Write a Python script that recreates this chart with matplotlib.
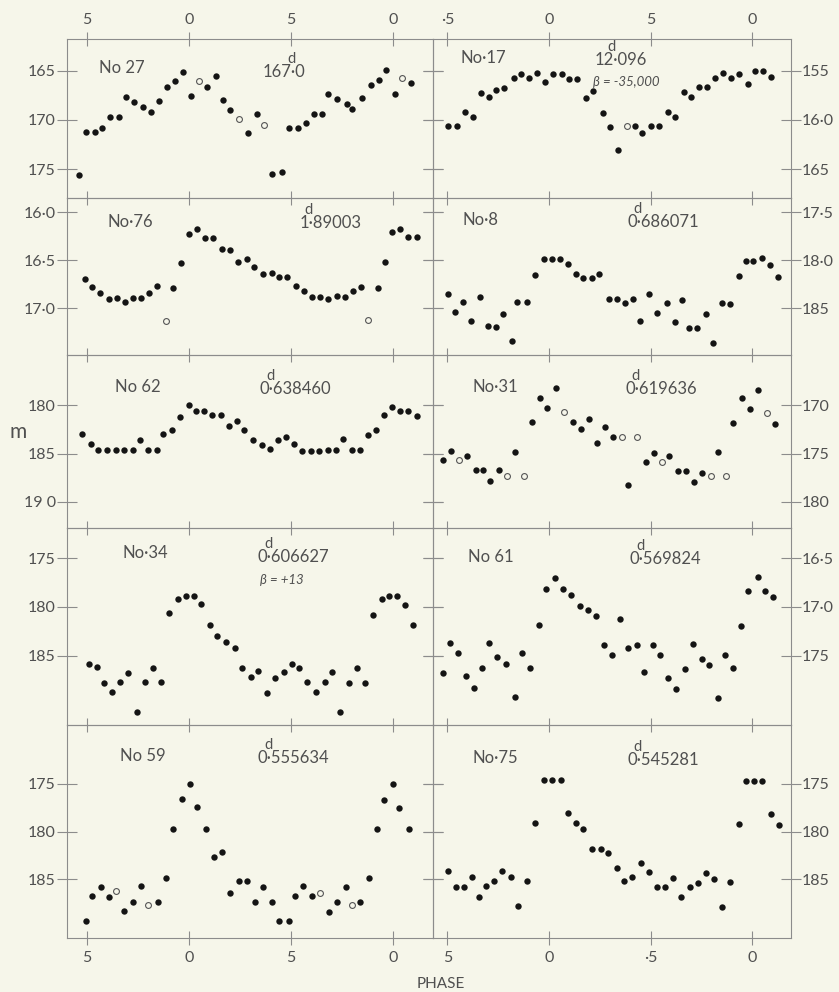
import matplotlib.pyplot as plt
from matplotlib.text import Annotation

plt.rcParams['font.family'] = ['Lato', 'DejaVu Sans']

# ---- data: phase, magnitude (filled and open circles) ----
no27_phase = [-0.54, -0.505, -0.462, -0.425, -0.386, -0.343, -0.307, -0.27, -0.227, -0.186,
              -0.147, -0.109, -0.07, -0.029, 0.008, 0.09, 0.131, 0.168, 0.201, 0.291,
              0.333, 0.407, 0.454, 0.492, 0.533, 0.574, 0.611, 0.652, 0.683, 0.724,
              0.773, 0.797, 0.846, 0.89, 0.93, 0.966, 1.008, 1.087]
no27_mag = [17.56, 17.12, 17.12, 17.08, 16.97, 16.97, 16.77, 16.82, 16.87, 16.92,
            16.81, 16.67, 16.61, 16.51, 16.76, 16.67, 16.55, 16.80, 16.90, 17.13,
            16.94, 17.55, 17.53, 17.08, 17.08, 17.03, 16.94, 16.94, 16.74, 16.79,
            16.84, 16.89, 16.78, 16.65, 16.60, 16.49, 16.74, 16.63]
no27_open_phase = [0.047, 0.245, 0.368, 1.046]
no27_open_mag = [16.61, 16.99, 17.05, 16.57]

no17_phase = [-0.495, -0.454, -0.415, -0.375, -0.336, -0.297, -0.261, -0.221, -0.175, -0.136,
              -0.098, -0.057, -0.018, 0.018, 0.062, 0.1, 0.139, 0.182, 0.218, 0.264,
              0.3, 0.341, 0.423, 0.459, 0.5, 0.541, 0.587, 0.621, 0.666, 0.698,
              0.736, 0.777, 0.815, 0.854, 0.895, 0.936, 0.979, 1.013, 1.054, 1.092]
no17_mag = [16.06, 16.06, 15.92, 15.97, 15.73, 15.77, 15.70, 15.68, 15.57, 15.53,
            15.57, 15.52, 15.62, 15.53, 15.53, 15.58, 15.58, 15.78, 15.71, 15.93,
            16.07, 16.30, 16.06, 16.13, 16.06, 16.06, 15.92, 15.97, 15.72, 15.77,
            15.67, 15.67, 15.57, 15.52, 15.57, 15.53, 15.64, 15.50, 15.50, 15.56]
no17_open_phase = [0.382]
no17_open_mag = [16.06]

no76_phase = [-0.511, -0.474, -0.435, -0.394, -0.351, -0.314, -0.273, -0.234, -0.196, -0.158,
              -0.077, -0.039, 0.002, 0.038, 0.077, 0.119, 0.16, 0.201, 0.239, 0.283,
              0.32, 0.364, 0.405, 0.443, 0.482, 0.523, 0.564, 0.601, 0.642, 0.683,
              0.724, 0.765, 0.806, 0.843, 0.925, 0.961, 0.997, 1.034, 1.075, 1.116]
no76_mag = [16.70, 16.78, 16.84, 16.90, 16.89, 16.94, 16.89, 16.89, 16.84, 16.77,
            16.79, 16.53, 16.23, 16.17, 16.27, 16.27, 16.38, 16.39, 16.52, 16.49,
            16.57, 16.64, 16.63, 16.68, 16.68, 16.77, 16.82, 16.88, 16.88, 16.91,
            16.87, 16.88, 16.82, 16.78, 16.79, 16.52, 16.21, 16.17, 16.26, 16.26]
no76_open_phase = [-0.113, 0.879]
no76_open_mag = [17.13, 17.12]

no8_phase = [-0.498, -0.464, -0.425, -0.385, -0.339, -0.302, -0.262, -0.225, -0.182, -0.156,
             -0.108, -0.067, -0.023, 0.016, 0.054, 0.095, 0.131, 0.169, 0.21, 0.248,
             0.295, 0.336, 0.374, 0.411, 0.448, 0.492, 0.533, 0.579, 0.62, 0.652,
             0.689, 0.726, 0.772, 0.808, 0.849, 0.89, 0.936, 0.967, 1.005, 1.046,
             1.087, 1.128]
no8_mag = [18.35, 18.54, 18.44, 18.64, 18.38, 18.69, 18.70, 18.56, 18.84, 18.44,
           18.44, 18.15, 17.99, 17.99, 17.99, 18.04, 18.14, 18.19, 18.19, 18.14,
           18.40, 18.40, 18.45, 18.41, 18.64, 18.35, 18.55, 18.45, 18.65, 18.42,
           18.71, 18.71, 18.56, 18.86, 18.45, 18.46, 18.16, 18.01, 18.01, 17.98,
           18.05, 18.17]
no8_open_phase = []
no8_open_mag = []

no62_phase = [-0.526, -0.482, -0.444, -0.404, -0.359, -0.317, -0.276, -0.24, -0.199, -0.158,
              -0.126, -0.083, -0.042, 0.0, 0.033, 0.074, 0.114, 0.157, 0.196, 0.234,
              0.271, 0.315, 0.358, 0.397, 0.436, 0.477, 0.515, 0.556, 0.597, 0.639,
              0.68, 0.721, 0.757, 0.799, 0.838, 0.876, 0.917, 0.956, 0.997, 1.034,
              1.075, 1.116]
no62_mag = [18.30, 18.40, 18.46, 18.46, 18.46, 18.46, 18.46, 18.36, 18.46, 18.46,
            18.30, 18.26, 18.12, 18.00, 18.06, 18.06, 18.10, 18.10, 18.21, 18.16,
            18.26, 18.36, 18.41, 18.45, 18.36, 18.33, 18.40, 18.47, 18.47, 18.47,
            18.46, 18.46, 18.35, 18.46, 18.46, 18.31, 18.26, 18.10, 18.02, 18.06,
            18.06, 18.11]
no62_open_phase = []
no62_open_mag = []

no31_phase = [-0.523, -0.482, -0.402, -0.361, -0.323, -0.29, -0.246, -0.169, -0.082, -0.044,
              -0.008, 0.034, 0.12, 0.157, 0.197, 0.234, 0.275, 0.313, 0.39, 0.477,
              0.518, 0.592, 0.633, 0.672, 0.715, 0.754, 0.83, 0.907, 0.948, 0.989,
              1.03, 1.111]
no31_mag = [17.57, 17.47, 17.53, 17.67, 17.67, 17.78, 17.67, 17.48, 17.17, 16.93,
            17.03, 16.82, 17.17, 17.25, 17.14, 17.39, 17.22, 17.33, 17.83, 17.59,
            17.49, 17.53, 17.68, 17.68, 17.79, 17.70, 17.48, 17.18, 16.93, 17.04,
            16.84, 17.19]
no31_open_phase = [-0.443, -0.208, -0.121, 0.075, 0.357, 0.434, 0.557, 0.795, 0.87, 1.074]
no31_open_mag = [17.57, 17.73, 17.73, 17.07, 17.33, 17.33, 17.59, 17.73, 17.73, 17.08]

no34_phase = [-0.49, -0.453, -0.415, -0.376, -0.338, -0.299, -0.253, -0.216, -0.176, -0.136,
              -0.096, -0.056, -0.016, 0.025, 0.06, 0.101, 0.139, 0.181, 0.225, 0.261,
              0.302, 0.34, 0.381, 0.42, 0.464, 0.505, 0.541, 0.58, 0.621, 0.667,
              0.703, 0.742, 0.783, 0.822, 0.863, 0.9, 0.944, 0.98, 1.021, 1.059, 1.1]
no34_mag = [18.58, 18.62, 18.78, 18.87, 18.77, 18.68, 19.08, 18.77, 18.63, 18.77,
            18.06, 17.92, 17.89, 17.89, 17.97, 18.18, 18.30, 18.36, 18.42, 18.63,
            18.72, 18.66, 18.88, 18.73, 18.67, 18.58, 18.63, 18.77, 18.87, 18.77,
            18.67, 19.08, 18.78, 18.63, 18.78, 18.08, 17.92, 17.89, 17.89, 17.98, 18.18]
no34_open_phase = []
no34_open_mag = []

no61_phase = [-0.523, -0.487, -0.449, -0.41, -0.369, -0.328, -0.295, -0.254, -0.211, -0.17,
              -0.134, -0.093, -0.049, -0.016, 0.03, 0.07, 0.108, 0.152, 0.19, 0.23,
              0.272, 0.311, 0.349, 0.387, 0.431, 0.469, 0.51, 0.546, 0.587, 0.625,
              0.669, 0.71, 0.751, 0.789, 0.83, 0.866, 0.903, 0.944, 0.977, 1.026,
              1.062, 1.103]
no61_mag = [17.68, 17.37, 17.47, 17.71, 17.83, 17.63, 17.37, 17.51, 17.58, 17.92,
            17.47, 17.63, 17.18, 16.82, 16.70, 16.82, 16.88, 16.99, 17.03, 17.09,
            17.39, 17.49, 17.12, 17.42, 17.39, 17.67, 17.39, 17.49, 17.73, 17.84,
            17.64, 17.38, 17.53, 17.59, 17.93, 17.49, 17.63, 17.19, 16.84, 16.69,
            16.84, 16.90]
no61_open_phase = []
no61_open_mag = []

no59_phase = [-0.507, -0.474, -0.433, -0.392, -0.317, -0.276, -0.235, -0.154, -0.114, -0.077,
              -0.036, 0.005, 0.038, 0.083, 0.124, 0.163, 0.201, 0.245, 0.283, 0.324,
              0.364, 0.405, 0.443, 0.489, 0.52, 0.56, 0.601, 0.688, 0.724, 0.768,
              0.838, 0.884, 0.92, 0.958, 0.998, 1.029, 1.078]
no59_mag = [18.93, 18.67, 18.58, 18.68, 18.83, 18.73, 18.57, 18.73, 18.48, 17.97,
            17.66, 17.51, 17.74, 17.97, 18.27, 18.21, 18.64, 18.52, 18.52, 18.73,
            18.58, 18.73, 18.93, 18.93, 18.67, 18.57, 18.67, 18.84, 18.73, 18.58,
            18.73, 18.48, 17.97, 17.67, 17.51, 17.75, 17.97]
no59_open_phase = [-0.358, -0.199, 0.642, 0.801]
no59_open_mag = [18.62, 18.77, 18.64, 18.77]

no75_phase = [-0.498, -0.459, -0.418, -0.377, -0.343, -0.311, -0.27, -0.23, -0.189, -0.152,
              -0.108, -0.069, -0.023, 0.016, 0.059, 0.095, 0.131, 0.169, 0.213, 0.254,
              0.292, 0.333, 0.369, 0.408, 0.451, 0.49, 0.53, 0.57, 0.608, 0.648,
              0.693, 0.731, 0.772, 0.811, 0.849, 0.89, 0.934, 0.967, 1.008, 1.049,
              1.09, 1.131]
no75_mag = [18.41, 18.58, 18.58, 18.47, 18.68, 18.57, 18.52, 18.41, 18.47, 18.78,
            18.52, 17.91, 17.46, 17.46, 17.46, 17.81, 17.91, 17.97, 18.18, 18.18,
            18.22, 18.38, 18.52, 18.47, 18.33, 18.42, 18.58, 18.58, 18.48, 18.68,
            18.58, 18.54, 18.43, 18.49, 18.79, 18.53, 17.92, 17.47, 17.47, 17.47,
            17.82, 17.93]
no75_open_phase = []
no75_open_mag = []

phase_ticks = [-0.5, 0.0, 0.5, 1.0]

# ---- look ----
paper = '#f6f6ea'
ink = '#505050'
rule = '#8c8c8c'
W, H = 839, 992

fig = plt.figure(figsize=(W / 100, H / 100), dpi=100, facecolor=paper)

col_x = [(67, 433), (433, 791)]
row_y = [39, 198, 355, 528, 725, 938]
xlims = [(-0.598, 1.196), (-0.571, 1.19)]

panels = [
    # row, col, filled, open, ylim (faint, bright), yticks, ticklabels
    (0, 0, no27_phase, no27_mag, no27_open_phase, no27_open_mag, (17.79, 16.18),
     [16.5, 17.0, 17.5], ['165', '170', '175']),
    (0, 1, no17_phase, no17_mag, no17_open_phase, no17_open_mag, (16.79, 15.18),
     [15.5, 16.0, 16.5], ['155', '16·0', '165']),
    (1, 0, no76_phase, no76_mag, no76_open_phase, no76_open_mag, (17.49, 15.85),
     [16.0, 16.5, 17.0], ['16·0', '16·5', '17·0']),
    (1, 1, no8_phase, no8_mag, no8_open_phase, no8_open_mag, (18.99, 17.35),
     [17.5, 18.0, 18.5], ['17·5', '18·0', '185']),
    (2, 0, no62_phase, no62_mag, no62_open_phase, no62_open_mag, (19.27, 17.48),
     [18.0, 18.5, 19.0], ['180', '185', '19 0']),
    (2, 1, no31_phase, no31_mag, no31_open_phase, no31_open_mag, (18.27, 16.48),
     [17.0, 17.5, 18.0], ['170', '175', '180']),
    (3, 0, no34_phase, no34_mag, no34_open_phase, no34_open_mag, (19.21, 17.19),
     [17.5, 18.0, 18.5], ['175', '180', '185']),
    (3, 1, no61_phase, no61_mag, no61_open_phase, no61_open_mag, (18.21, 16.19),
     [16.5, 17.0, 17.5], ['16·5', '17·0', '175']),
    (4, 0, no59_phase, no59_mag, no59_open_phase, no59_open_mag, (19.11, 16.89),
     [17.5, 18.0, 18.5], ['175', '180', '185']),
    (4, 1, no75_phase, no75_mag, no75_open_phase, no75_open_mag, (19.11, 16.89),
     [17.5, 18.0, 18.5], ['175', '180', '185']),
]

for row, col, ph, mg, oph, omg, ylim, yt, ytl in panels:
    x0, x1 = col_x[col]
    top, bot = row_y[row], row_y[row + 1]
    ax = fig.add_axes([x0 / W, 1 - bot / H, (x1 - x0) / W, (bot - top) / H])
    ax.set_facecolor('none')
    ax.plot(ph, mg, 'o', color='#141414', ms=4.6, mew=0)
    if oph:
        ax.plot(oph, omg, 'o', mfc='none', mec='#555555', ms=4.2, mew=0.8)
    ax.set_xlim(*xlims[col])
    ax.set_ylim(*ylim)
    ax.set_xticks(phase_ticks)
    ax.set_yticks(yt)
    ax.set_yticklabels(ytl)
    for s in ax.spines.values():
        s.set_color(rule)
        s.set_linewidth(0.8)
    ax.tick_params(axis='y', direction='inout', length=14, width=0.8, color=rule,
                   left=True, right=True, labelleft=(col == 0), labelright=(col == 1),
                   labelsize=11.5, labelcolor=ink, pad=1)
    ax.tick_params(axis='x', direction='inout', length=10, width=0.8, color=rule,
                   top=True, bottom=(row == 4), labeltop=(row == 0),
                   labelbottom=(row == 4), labelsize=11.5, labelcolor=ink, pad=4)
    if row == 0:
        ax.set_xticklabels(['5', '0', '5', '0'] if col == 0 else ['·5', '0', '5', '0'])
    if row == 4:
        ax.set_xticklabels(['5', '0', '5', '0'] if col == 0 else ['5', '0', '·5', '0'])

# star numbers and periods (left edge x, centre y in pixels)
names = [('No 27', 99, 68), ('No·17', 460, 58), ('No·76', 107, 222), ('No·8', 463, 220),
         ('No 62', 115, 387), ('No·31', 473, 387), ('No·34', 123, 553), ('No 61', 468, 557),
         ('No 59', 120, 756), ('No·75', 473, 758)]
periods = [('167·0', 263, 72, 0.66), ('12·096', 595, 60, 0.31), ('1·89003', 300, 223, 0.14),
           ('0·686071', 627, 222, 0.15), ('0·638460', 260, 389, 0.15),
           ('0·619636', 625, 389, 0.15), ('0·606627', 258, 557, 0.15),
           ('0·569824', 630, 559, 0.15), ('0·555634', 258, 758, 0.15),
           ('0·545281', 627, 760, 0.15)]

for txt, px, py in names:
    fig.text(px / W, 1 - py / H, txt, fontsize=12, color=ink, ha='left', va='center')
for txt, px, py, dfrac in periods:
    t = fig.text(px / W, 1 - py / H, txt, fontsize=12, color=ink, ha='left', va='center')
    fig.add_artist(Annotation('d', xy=(dfrac, 0.9), xycoords=t, ha='center',
                              va='bottom', fontsize=10.5, color=ink))

fig.text(593 / W, 1 - 82 / H, 'β = -35,000', fontsize=9.5, color=ink, ha='left', va='center',
         style='italic')
fig.text(260 / W, 1 - 580 / H, 'β = +13', fontsize=9.5, color=ink, ha='left', va='center',
         style='italic')

fig.text(18 / W, 1 - 432 / H, 'm', fontsize=15, color=ink, ha='center', va='center')
fig.text(441 / W, 1 - 984 / H, 'PHASE', fontsize=11, color=ink, ha='center', va='center')

fig.savefig('out.png', dpi=100, facecolor=paper)
